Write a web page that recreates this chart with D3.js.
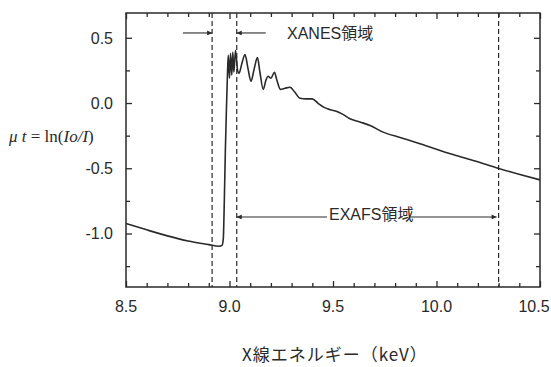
<!DOCTYPE html>
<html><head><meta charset="utf-8">
<script src="https://cdn.jsdelivr.net/npm/d3@7"></script>
<style>body{margin:0;background:#fff;} svg{display:block;}</style>
</head><body>
<script>
// ---- data ----
const energy = [8.5, 8.6, 8.7, 8.8, 8.9, 8.949, 8.964, 8.970, 8.975, 8.980, 8.985, 8.990, 8.994,
  9.000, 9.005, 9.011, 9.016, 9.021, 9.029, 9.039, 9.046, 9.060, 9.075, 9.089, 9.104, 9.118,
  9.135, 9.147, 9.163, 9.176, 9.186, 9.200, 9.217, 9.229, 9.246, 9.268, 9.292, 9.316, 9.341,
  9.370, 9.399, 9.428, 9.457, 9.486, 9.519, 9.548, 9.582, 9.630, 9.679, 9.742, 9.824, 9.920,
  10.080, 10.186, 10.297, 10.403, 10.500];
const mu = [-0.923, -0.972, -1.018, -1.057, -1.085, -1.098, -1.091, -1.041, -0.748, -0.364, -0.056, 0.213, 0.367,
  0.190, 0.382, 0.213, 0.390, 0.236, 0.405, 0.252, 0.228, 0.305, 0.371, 0.267, 0.167, 0.252,
  0.348, 0.236, 0.105, 0.175, 0.205, 0.190, 0.236, 0.175, 0.105, 0.113, 0.121, 0.082, 0.036,
  0.032, 0.032, -0.002, -0.033, -0.051, -0.064, -0.087, -0.120, -0.145, -0.172, -0.223, -0.264, -0.312,
  -0.395, -0.445, -0.500, -0.548, -0.589];
const xMajorTicks = [8.5, 9.0, 9.5, 10.0, 10.5];
const xTickLabels = ["8.5", "9.0", "9.5", "10.0", "10.5"];
const xMinorTicks = [8.6, 8.7, 8.8, 8.9, 9.1, 9.2, 9.3, 9.4, 9.6, 9.7, 9.8, 9.9, 10.1, 10.2, 10.3, 10.4];
const yMajorTicks = [0.5, 0.0, -0.5, -1.0];
const yTickLabels = ["0.5", "0.0", "-0.5", "-1.0"];
const yMinorTicks = [0.25, -0.25, -0.75, -1.25];
const regionLines = [8.916, 9.035, 10.30];
const xanesArrows = [[8.775, 8.916], [9.175, 9.035]];
const xanesArrowY = 0.537;
const exafsArrow = [9.035, 10.30];
const exafsArrowY = -0.873;
const xanesLabel = "XANES領域";
const exafsLabel = "EXAFS領域";
const xTitle = "X線エネルギー（keV）";

// ---- chart ----
const W = 551, H = 367;
const svg = d3.select("body").append("svg").attr("width", W).attr("height", H);
const x = d3.scaleLinear().domain([8.5, 10.5]).range([126, 540]);
const y = d3.scaleLinear().domain([-1.41, 0.69]).range([287, 13]);
const ink = "#2a2a2a";

const defs = svg.append("defs");
defs.append("marker").attr("id", "ah").attr("viewBox", "0 0 10 10").attr("refX", 10).attr("refY", 5)
  .attr("markerWidth", 7).attr("markerHeight", 5).attr("markerUnits", "userSpaceOnUse").attr("orient", "auto")
  .append("path").attr("d", "M0,0L10,5L0,10Z").attr("fill", ink);

// frame
svg.append("rect").attr("x", x(8.5)).attr("y", y(0.69)).attr("width", x(10.5) - x(8.5))
  .attr("height", y(-1.41) - y(0.69)).attr("fill", "none").attr("stroke", ink).attr("stroke-width", 1.5);

// axes with inward ticks (all 4 sides)
function tickAxes(vals, len) {
  svg.append("g").attr("transform", `translate(0,${y(-1.41)})`)
    .call(d3.axisBottom(x).tickValues(vals).tickSize(-len).tickFormat(""))
    .call(g => g.select(".domain").remove()).selectAll("line").attr("stroke", ink).attr("stroke-width", 1.3);
  svg.append("g").attr("transform", `translate(0,${y(0.69)})`)
    .call(d3.axisTop(x).tickValues(vals).tickSize(-len).tickFormat(""))
    .call(g => g.select(".domain").remove()).selectAll("line").attr("stroke", ink).attr("stroke-width", 1.3);
}
tickAxes(xMajorTicks, 6);
tickAxes(xMinorTicks, 4);
function yAxes(vals, len) {
  svg.append("g").attr("transform", `translate(${x(8.5)},0)`)
    .call(d3.axisLeft(y).tickValues(vals).tickSize(-len).tickFormat(""))
    .call(g => g.select(".domain").remove()).selectAll("line").attr("stroke", ink).attr("stroke-width", 1.3);
  svg.append("g").attr("transform", `translate(${x(10.5)},0)`)
    .call(d3.axisRight(y).tickValues(vals).tickSize(-len).tickFormat(""))
    .call(g => g.select(".domain").remove()).selectAll("line").attr("stroke", ink).attr("stroke-width", 1.3);
}
yAxes(yMajorTicks, 6);
yAxes(yMinorTicks, 4);

// tick labels
const lblFont = "'Liberation Sans', Arial, sans-serif";
svg.append("g").selectAll("text").data(xMajorTicks).join("text")
  .attr("x", d => Math.min(x(d), W - 17)).attr("y", 312).attr("text-anchor", "middle")
  .attr("font-family", lblFont).attr("font-size", 16).attr("fill", ink)
  .text((d, i) => xTickLabels[i]);
svg.append("g").selectAll("text").data(yMajorTicks).join("text")
  .attr("x", 113).attr("y", d => y(d)).attr("dy", "0.36em").attr("text-anchor", "end")
  .attr("font-family", lblFont).attr("font-size", 16).attr("fill", ink)
  .text((d, i) => yTickLabels[i]);

// region dashed lines
svg.append("g").selectAll("line").data(regionLines).join("line")
  .attr("x1", d => x(d)).attr("x2", d => x(d)).attr("y1", y(0.69)).attr("y2", y(-1.41))
  .attr("stroke", ink).attr("stroke-width", 1.2).attr("stroke-dasharray", "5,3");

// curve
svg.append("path").datum(energy.map((e, i) => [e, mu[i]]))
  .attr("d", d3.line().curve(d3.curveMonotoneX).x(d => x(d[0])).y(d => y(d[1])))
  .attr("fill", "none").attr("stroke", ink).attr("stroke-width", 1.6).attr("stroke-linejoin", "round");

// XANES arrows
svg.append("g").selectAll("line").data(xanesArrows).join("line")
  .attr("x1", d => x(d[0])).attr("x2", d => x(d[1])).attr("y1", y(xanesArrowY)).attr("y2", y(xanesArrowY))
  .attr("stroke", ink).attr("stroke-width", 1.1).attr("marker-end", "url(#ah)");
const annFont = "'Liberation Sans', 'Noto Sans CJK JP', sans-serif";
svg.append("text").attr("x", 287).attr("y", y(xanesArrowY)).attr("dy", "0.36em")
  .attr("font-family", annFont).attr("font-size", 16).attr("fill", ink).text(xanesLabel);

// EXAFS arrow (two segments around label)
const exL = svg.append("text").attr("x", 329).attr("y", y(exafsArrowY) - 3).attr("dy", "0.36em")
  .attr("font-family", annFont).attr("font-size", 16).attr("fill", ink).text(exafsLabel);
const bb = exL.node().getBBox();
svg.append("line").attr("x1", bb.x - 2).attr("x2", x(exafsArrow[0])).attr("y1", y(exafsArrowY)).attr("y2", y(exafsArrowY))
  .attr("stroke", ink).attr("stroke-width", 1.1).attr("marker-end", "url(#ah)");
svg.append("line").attr("x1", bb.x + bb.width - 4).attr("x2", x(exafsArrow[1]) - 2).attr("y1", y(exafsArrowY)).attr("y2", y(exafsArrowY))
  .attr("stroke", ink).attr("stroke-width", 1.1).attr("marker-end", "url(#ah)");

// y title
const yt = svg.append("text").attr("x", 9).attr("y", 142)
  .attr("font-family", "'Liberation Serif', 'Times New Roman', serif").attr("font-size", 17).attr("fill", ink);
yt.append("tspan").attr("font-style", "italic").text("μ t");
yt.append("tspan").text(" = ln(");
yt.append("tspan").attr("font-style", "italic").text("Io/I");
yt.append("tspan").text(")");

// x title
svg.append("text").attr("x", 242).attr("y", 361).attr("letter-spacing", 1)
  .attr("font-family", "'Noto Sans CJK JP', sans-serif").attr("font-size", 17).attr("fill", ink)
  .text(xTitle);
</script>
</body></html>
